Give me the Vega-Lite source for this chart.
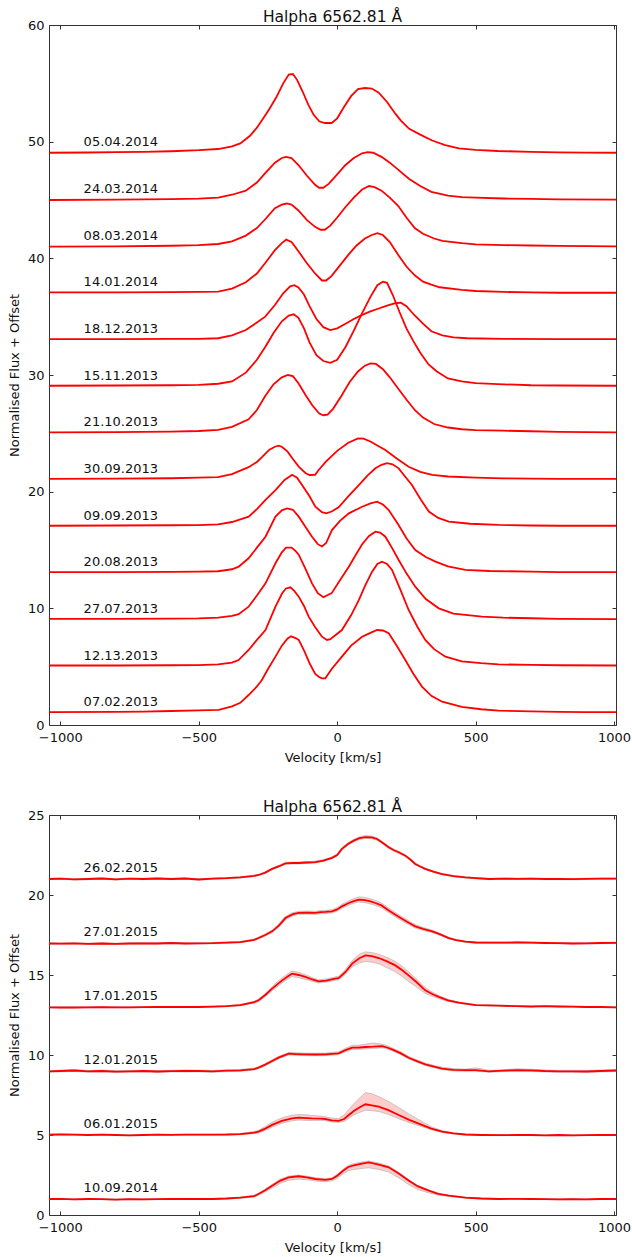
{
"$schema": "https://vega.github.io/schema/vega-lite/v6.json",
"padding": {"left": 7, "top": 9, "right": 5, "bottom": 2},
"spacing": 34,
"config": {
  "font": "DejaVu Sans",
  "view": {"stroke": "#333", "strokeWidth": 1},
  "axis": {"domain": false, "grid": false, "labelFont": "DejaVu Sans", "labelFontSize": 13, "labelColor": "#111", "titleFont": "DejaVu Sans", "titleFontSize": 13, "titleFontWeight": "normal", "titleColor": "#111", "tickColor": "#333", "tickSize": -4, "labelPadding": 10, "titlePadding": 6},
  "axisX": {"titlePadding": 7},
  "axisY": {"labelPadding": 9},
  "title": {"font": "DejaVu Sans", "fontSize": 15.5, "fontWeight": "normal", "color": "#111", "offset": -6, "anchor": "middle"}
},
"datasets": {
"lt": [
{"d":"05.04.2014","o":49},{"d":"24.03.2014","o":45},{"d":"08.03.2014","o":41},{"d":"14.01.2014","o":37},{"d":"18.12.2013","o":33},{"d":"15.11.2013","o":29},{"d":"21.10.2013","o":25},{"d":"30.09.2013","o":21},{"d":"09.09.2013","o":17},{"d":"20.08.2013","o":13},{"d":"27.07.2013","o":9},{"d":"12.13.2013","o":5},{"d":"07.02.2013","o":1}
],
"lb": [
{"d":"26.02.2015","o":21},{"d":"27.01.2015","o":17},{"d":"17.01.2015","o":13},{"d":"12.01.2015","o":9},{"d":"06.01.2015","o":5},{"d":"10.09.2014","o":1}
],
"top": [
{"d":"05.04.2014","v":-1040,"f":49.05},{"d":"05.04.2014","v":-900,"f":49.07},{"d":"05.04.2014","v":-800,"f":49.1},{"d":"05.04.2014","v":-700,"f":49.13},{"d":"05.04.2014","v":-600,"f":49.18},{"d":"05.04.2014","v":-500,"f":49.27},{"d":"05.04.2014","v":-430,"f":49.37},{"d":"05.04.2014","v":-380,"f":49.6},{"d":"05.04.2014","v":-350,"f":49.85},{"d":"05.04.2014","v":-315,"f":50.5},{"d":"05.04.2014","v":-290,"f":51.2},{"d":"05.04.2014","v":-270,"f":51.9},{"d":"05.04.2014","v":-245,"f":52.8},{"d":"05.04.2014","v":-220,"f":53.8},{"d":"05.04.2014","v":-195,"f":55.0},{"d":"05.04.2014","v":-175,"f":55.75},{"d":"05.04.2014","v":-160,"f":55.8},{"d":"05.04.2014","v":-145,"f":55.3},{"d":"05.04.2014","v":-125,"f":54.3},{"d":"05.04.2014","v":-105,"f":53.2},{"d":"05.04.2014","v":-85,"f":52.3},{"d":"05.04.2014","v":-65,"f":51.75},{"d":"05.04.2014","v":-45,"f":51.6},{"d":"05.04.2014","v":-20,"f":51.6},{"d":"05.04.2014","v":0,"f":52.0},{"d":"05.04.2014","v":25,"f":53.0},{"d":"05.04.2014","v":50,"f":53.9},{"d":"05.04.2014","v":75,"f":54.5},{"d":"05.04.2014","v":100,"f":54.6},{"d":"05.04.2014","v":125,"f":54.55},{"d":"05.04.2014","v":150,"f":54.2},{"d":"05.04.2014","v":180,"f":53.4},{"d":"05.04.2014","v":210,"f":52.4},{"d":"05.04.2014","v":230,"f":51.8},{"d":"05.04.2014","v":260,"f":51.1},{"d":"05.04.2014","v":300,"f":50.6},{"d":"05.04.2014","v":343,"f":50.1},{"d":"05.04.2014","v":390,"f":49.7},{"d":"05.04.2014","v":440,"f":49.43},{"d":"05.04.2014","v":500,"f":49.3},{"d":"05.04.2014","v":580,"f":49.2},{"d":"05.04.2014","v":700,"f":49.13},{"d":"05.04.2014","v":800,"f":49.08},{"d":"05.04.2014","v":900,"f":49.06},{"d":"05.04.2014","v":1007,"f":49.05},
{"d":"24.03.2014","v":-1040,"f":45.0},{"d":"24.03.2014","v":-800,"f":45.03},{"d":"24.03.2014","v":-600,"f":45.08},{"d":"24.03.2014","v":-500,"f":45.12},{"d":"24.03.2014","v":-430,"f":45.2},{"d":"24.03.2014","v":-380,"f":45.45},{"d":"24.03.2014","v":-330,"f":45.8},{"d":"24.03.2014","v":-290,"f":46.5},{"d":"24.03.2014","v":-260,"f":47.3},{"d":"24.03.2014","v":-225,"f":48.2},{"d":"24.03.2014","v":-200,"f":48.6},{"d":"24.03.2014","v":-185,"f":48.7},{"d":"24.03.2014","v":-165,"f":48.6},{"d":"24.03.2014","v":-140,"f":48.0},{"d":"24.03.2014","v":-110,"f":47.1},{"d":"24.03.2014","v":-80,"f":46.3},{"d":"24.03.2014","v":-65,"f":46.05},{"d":"24.03.2014","v":-50,"f":46.05},{"d":"24.03.2014","v":-30,"f":46.4},{"d":"24.03.2014","v":0,"f":47.2},{"d":"24.03.2014","v":30,"f":48.0},{"d":"24.03.2014","v":60,"f":48.6},{"d":"24.03.2014","v":90,"f":49.0},{"d":"24.03.2014","v":110,"f":49.1},{"d":"24.03.2014","v":130,"f":49.05},{"d":"24.03.2014","v":160,"f":48.7},{"d":"24.03.2014","v":190,"f":48.2},{"d":"24.03.2014","v":220,"f":47.6},{"d":"24.03.2014","v":260,"f":46.8},{"d":"24.03.2014","v":300,"f":46.2},{"d":"24.03.2014","v":340,"f":45.7},{"d":"24.03.2014","v":400,"f":45.37},{"d":"24.03.2014","v":450,"f":45.25},{"d":"24.03.2014","v":500,"f":45.2},{"d":"24.03.2014","v":600,"f":45.13},{"d":"24.03.2014","v":700,"f":45.1},{"d":"24.03.2014","v":800,"f":45.06},{"d":"24.03.2014","v":1007,"f":45.03},
{"d":"08.03.2014","v":-1040,"f":41.0},{"d":"08.03.2014","v":-800,"f":41.03},{"d":"08.03.2014","v":-600,"f":41.08},{"d":"08.03.2014","v":-500,"f":41.14},{"d":"08.03.2014","v":-430,"f":41.23},{"d":"08.03.2014","v":-380,"f":41.45},{"d":"08.03.2014","v":-330,"f":41.95},{"d":"08.03.2014","v":-290,"f":42.6},{"d":"08.03.2014","v":-260,"f":43.35},{"d":"08.03.2014","v":-225,"f":44.3},{"d":"08.03.2014","v":-200,"f":44.6},{"d":"08.03.2014","v":-182,"f":44.7},{"d":"08.03.2014","v":-165,"f":44.6},{"d":"08.03.2014","v":-140,"f":44.1},{"d":"08.03.2014","v":-110,"f":43.3},{"d":"08.03.2014","v":-80,"f":42.7},{"d":"08.03.2014","v":-60,"f":42.45},{"d":"08.03.2014","v":-45,"f":42.45},{"d":"08.03.2014","v":-25,"f":42.8},{"d":"08.03.2014","v":0,"f":43.5},{"d":"08.03.2014","v":30,"f":44.4},{"d":"08.03.2014","v":60,"f":45.2},{"d":"08.03.2014","v":90,"f":45.9},{"d":"08.03.2014","v":115,"f":46.2},{"d":"08.03.2014","v":135,"f":46.1},{"d":"08.03.2014","v":160,"f":45.8},{"d":"08.03.2014","v":190,"f":45.2},{"d":"08.03.2014","v":220,"f":44.5},{"d":"08.03.2014","v":250,"f":43.5},{"d":"08.03.2014","v":280,"f":42.6},{"d":"08.03.2014","v":310,"f":42.1},{"d":"08.03.2014","v":350,"f":41.7},{"d":"08.03.2014","v":380,"f":41.5},{"d":"08.03.2014","v":450,"f":41.3},{"d":"08.03.2014","v":500,"f":41.2},{"d":"08.03.2014","v":600,"f":41.13},{"d":"08.03.2014","v":700,"f":41.1},{"d":"08.03.2014","v":800,"f":41.06},{"d":"08.03.2014","v":1007,"f":41.03},
{"d":"14.01.2014","v":-1040,"f":37.08},{"d":"14.01.2014","v":-800,"f":37.09},{"d":"14.01.2014","v":-600,"f":37.1},{"d":"14.01.2014","v":-500,"f":37.12},{"d":"14.01.2014","v":-430,"f":37.15},{"d":"14.01.2014","v":-380,"f":37.4},{"d":"14.01.2014","v":-330,"f":37.95},{"d":"14.01.2014","v":-290,"f":38.7},{"d":"14.01.2014","v":-260,"f":39.6},{"d":"14.01.2014","v":-225,"f":40.7},{"d":"14.01.2014","v":-200,"f":41.3},{"d":"14.01.2014","v":-184,"f":41.6},{"d":"14.01.2014","v":-165,"f":41.4},{"d":"14.01.2014","v":-140,"f":40.6},{"d":"14.01.2014","v":-110,"f":39.6},{"d":"14.01.2014","v":-80,"f":38.7},{"d":"14.01.2014","v":-55,"f":38.1},{"d":"14.01.2014","v":-40,"f":38.1},{"d":"14.01.2014","v":-20,"f":38.5},{"d":"14.01.2014","v":10,"f":39.4},{"d":"14.01.2014","v":40,"f":40.3},{"d":"14.01.2014","v":70,"f":41.1},{"d":"14.01.2014","v":100,"f":41.7},{"d":"14.01.2014","v":125,"f":42.0},{"d":"14.01.2014","v":145,"f":42.15},{"d":"14.01.2014","v":165,"f":42.0},{"d":"14.01.2014","v":190,"f":41.4},{"d":"14.01.2014","v":220,"f":40.3},{"d":"14.01.2014","v":250,"f":39.3},{"d":"14.01.2014","v":280,"f":38.55},{"d":"14.01.2014","v":310,"f":38.0},{"d":"14.01.2014","v":340,"f":37.75},{"d":"14.01.2014","v":370,"f":37.52},{"d":"14.01.2014","v":450,"f":37.3},{"d":"14.01.2014","v":500,"f":37.2},{"d":"14.01.2014","v":600,"f":37.12},{"d":"14.01.2014","v":700,"f":37.08},{"d":"14.01.2014","v":800,"f":37.05},{"d":"14.01.2014","v":1007,"f":37.05},
{"d":"18.12.2013","v":-1040,"f":33.08},{"d":"18.12.2013","v":-800,"f":33.08},{"d":"18.12.2013","v":-600,"f":33.09},{"d":"18.12.2013","v":-500,"f":33.1},{"d":"18.12.2013","v":-430,"f":33.15},{"d":"18.12.2013","v":-380,"f":33.4},{"d":"18.12.2013","v":-330,"f":33.86},{"d":"18.12.2013","v":-290,"f":34.5},{"d":"18.12.2013","v":-260,"f":35.0},{"d":"18.12.2013","v":-225,"f":36.0},{"d":"18.12.2013","v":-195,"f":37.0},{"d":"18.12.2013","v":-170,"f":37.6},{"d":"18.12.2013","v":-155,"f":37.7},{"d":"18.12.2013","v":-140,"f":37.5},{"d":"18.12.2013","v":-120,"f":36.9},{"d":"18.12.2013","v":-100,"f":35.9},{"d":"18.12.2013","v":-75,"f":34.8},{"d":"18.12.2013","v":-50,"f":34.1},{"d":"18.12.2013","v":-25,"f":33.85},{"d":"18.12.2013","v":0,"f":34.0},{"d":"18.12.2013","v":30,"f":34.4},{"d":"18.12.2013","v":60,"f":34.8},{"d":"18.12.2013","v":90,"f":35.15},{"d":"18.12.2013","v":120,"f":35.45},{"d":"18.12.2013","v":150,"f":35.7},{"d":"18.12.2013","v":180,"f":35.95},{"d":"18.12.2013","v":210,"f":36.15},{"d":"18.12.2013","v":230,"f":36.2},{"d":"18.12.2013","v":250,"f":35.9},{"d":"18.12.2013","v":280,"f":35.1},{"d":"18.12.2013","v":310,"f":34.4},{"d":"18.12.2013","v":340,"f":33.75},{"d":"18.12.2013","v":380,"f":33.4},{"d":"18.12.2013","v":420,"f":33.22},{"d":"18.12.2013","v":470,"f":33.15},{"d":"18.12.2013","v":600,"f":33.1},{"d":"18.12.2013","v":800,"f":33.07},{"d":"18.12.2013","v":1007,"f":33.08},
{"d":"15.11.2013","v":-1040,"f":29.08},{"d":"15.11.2013","v":-800,"f":29.1},{"d":"15.11.2013","v":-600,"f":29.12},{"d":"15.11.2013","v":-500,"f":29.15},{"d":"15.11.2013","v":-430,"f":29.25},{"d":"15.11.2013","v":-380,"f":29.45},{"d":"15.11.2013","v":-330,"f":30.2},{"d":"15.11.2013","v":-290,"f":31.3},{"d":"15.11.2013","v":-260,"f":32.4},{"d":"15.11.2013","v":-230,"f":33.6},{"d":"15.11.2013","v":-200,"f":34.6},{"d":"15.11.2013","v":-175,"f":35.1},{"d":"15.11.2013","v":-157,"f":35.2},{"d":"15.11.2013","v":-140,"f":34.9},{"d":"15.11.2013","v":-120,"f":34.0},{"d":"15.11.2013","v":-100,"f":32.8},{"d":"15.11.2013","v":-75,"f":31.7},{"d":"15.11.2013","v":-50,"f":31.2},{"d":"15.11.2013","v":-25,"f":31.05},{"d":"15.11.2013","v":0,"f":31.3},{"d":"15.11.2013","v":30,"f":32.4},{"d":"15.11.2013","v":60,"f":33.8},{"d":"15.11.2013","v":90,"f":35.3},{"d":"15.11.2013","v":120,"f":36.7},{"d":"15.11.2013","v":145,"f":37.7},{"d":"15.11.2013","v":165,"f":38.0},{"d":"15.11.2013","v":180,"f":37.9},{"d":"15.11.2013","v":200,"f":36.9},{"d":"15.11.2013","v":225,"f":35.4},{"d":"15.11.2013","v":250,"f":34.0},{"d":"15.11.2013","v":275,"f":32.9},{"d":"15.11.2013","v":300,"f":31.9},{"d":"15.11.2013","v":330,"f":30.9},{"d":"15.11.2013","v":360,"f":30.3},{"d":"15.11.2013","v":400,"f":29.7},{"d":"15.11.2013","v":450,"f":29.45},{"d":"15.11.2013","v":500,"f":29.3},{"d":"15.11.2013","v":580,"f":29.22},{"d":"15.11.2013","v":700,"f":29.12},{"d":"15.11.2013","v":800,"f":29.1},{"d":"15.11.2013","v":1007,"f":29.08},
{"d":"21.10.2013","v":-1040,"f":25.09},{"d":"21.10.2013","v":-800,"f":25.1},{"d":"21.10.2013","v":-600,"f":25.15},{"d":"21.10.2013","v":-500,"f":25.2},{"d":"21.10.2013","v":-430,"f":25.3},{"d":"21.10.2013","v":-380,"f":25.55},{"d":"21.10.2013","v":-320,"f":26.2},{"d":"21.10.2013","v":-290,"f":27.0},{"d":"21.10.2013","v":-260,"f":28.2},{"d":"21.10.2013","v":-230,"f":29.2},{"d":"21.10.2013","v":-200,"f":29.8},{"d":"21.10.2013","v":-178,"f":30.0},{"d":"21.10.2013","v":-160,"f":29.9},{"d":"21.10.2013","v":-140,"f":29.3},{"d":"21.10.2013","v":-115,"f":28.3},{"d":"21.10.2013","v":-90,"f":27.4},{"d":"21.10.2013","v":-65,"f":26.7},{"d":"21.10.2013","v":-50,"f":26.55},{"d":"21.10.2013","v":-35,"f":26.6},{"d":"21.10.2013","v":-15,"f":27.1},{"d":"21.10.2013","v":15,"f":28.2},{"d":"21.10.2013","v":45,"f":29.4},{"d":"21.10.2013","v":75,"f":30.3},{"d":"21.10.2013","v":100,"f":30.8},{"d":"21.10.2013","v":120,"f":31.0},{"d":"21.10.2013","v":140,"f":30.95},{"d":"21.10.2013","v":165,"f":30.5},{"d":"21.10.2013","v":190,"f":29.8},{"d":"21.10.2013","v":220,"f":28.85},{"d":"21.10.2013","v":250,"f":27.9},{"d":"21.10.2013","v":280,"f":27.0},{"d":"21.10.2013","v":310,"f":26.35},{"d":"21.10.2013","v":350,"f":25.8},{"d":"21.10.2013","v":400,"f":25.5},{"d":"21.10.2013","v":450,"f":25.35},{"d":"21.10.2013","v":500,"f":25.27},{"d":"21.10.2013","v":600,"f":25.23},{"d":"21.10.2013","v":700,"f":25.18},{"d":"21.10.2013","v":800,"f":25.12},{"d":"21.10.2013","v":1007,"f":25.09},
{"d":"30.09.2013","v":-1040,"f":21.1},{"d":"30.09.2013","v":-800,"f":21.12},{"d":"30.09.2013","v":-600,"f":21.15},{"d":"30.09.2013","v":-500,"f":21.2},{"d":"30.09.2013","v":-430,"f":21.25},{"d":"30.09.2013","v":-380,"f":21.5},{"d":"30.09.2013","v":-320,"f":22.1},{"d":"30.09.2013","v":-290,"f":22.55},{"d":"30.09.2013","v":-270,"f":23.0},{"d":"30.09.2013","v":-245,"f":23.6},{"d":"30.09.2013","v":-225,"f":23.85},{"d":"30.09.2013","v":-212,"f":23.94},{"d":"30.09.2013","v":-200,"f":23.85},{"d":"30.09.2013","v":-180,"f":23.45},{"d":"30.09.2013","v":-160,"f":22.8},{"d":"30.09.2013","v":-139,"f":22.15},{"d":"30.09.2013","v":-115,"f":21.6},{"d":"30.09.2013","v":-100,"f":21.43},{"d":"30.09.2013","v":-80,"f":21.45},{"d":"30.09.2013","v":-67,"f":21.86},{"d":"30.09.2013","v":-40,"f":22.6},{"d":"30.09.2013","v":0,"f":23.5},{"d":"30.09.2013","v":40,"f":24.2},{"d":"30.09.2013","v":75,"f":24.57},{"d":"30.09.2013","v":95,"f":24.55},{"d":"30.09.2013","v":120,"f":24.3},{"d":"30.09.2013","v":145,"f":23.95},{"d":"30.09.2013","v":174,"f":23.57},{"d":"30.09.2013","v":215,"f":22.85},{"d":"30.09.2013","v":258,"f":22.14},{"d":"30.09.2013","v":300,"f":21.7},{"d":"30.09.2013","v":343,"f":21.43},{"d":"30.09.2013","v":400,"f":21.3},{"d":"30.09.2013","v":500,"f":21.2},{"d":"30.09.2013","v":600,"f":21.14},{"d":"30.09.2013","v":700,"f":21.12},{"d":"30.09.2013","v":800,"f":21.1},{"d":"30.09.2013","v":1007,"f":21.1},
{"d":"09.09.2013","v":-1040,"f":17.08},{"d":"09.09.2013","v":-800,"f":17.1},{"d":"09.09.2013","v":-600,"f":17.12},{"d":"09.09.2013","v":-500,"f":17.14},{"d":"09.09.2013","v":-430,"f":17.2},{"d":"09.09.2013","v":-380,"f":17.4},{"d":"09.09.2013","v":-320,"f":17.86},{"d":"09.09.2013","v":-290,"f":18.5},{"d":"09.09.2013","v":-259,"f":19.29},{"d":"09.09.2013","v":-223,"f":20.14},{"d":"09.09.2013","v":-190,"f":21.0},{"d":"09.09.2013","v":-163,"f":21.45},{"d":"09.09.2013","v":-145,"f":21.2},{"d":"09.09.2013","v":-127,"f":20.57},{"d":"09.09.2013","v":-100,"f":19.6},{"d":"09.09.2013","v":-79,"f":18.71},{"d":"09.09.2013","v":-55,"f":18.25},{"d":"09.09.2013","v":-40,"f":18.14},{"d":"09.09.2013","v":-20,"f":18.3},{"d":"09.09.2013","v":5,"f":18.66},{"d":"09.09.2013","v":40,"f":19.6},{"d":"09.09.2013","v":78,"f":20.57},{"d":"09.09.2013","v":110,"f":21.4},{"d":"09.09.2013","v":138,"f":22.0},{"d":"09.09.2013","v":160,"f":22.3},{"d":"09.09.2013","v":180,"f":22.45},{"d":"09.09.2013","v":200,"f":22.35},{"d":"09.09.2013","v":222,"f":22.0},{"d":"09.09.2013","v":245,"f":21.3},{"d":"09.09.2013","v":270,"f":20.57},{"d":"09.09.2013","v":300,"f":19.4},{"d":"09.09.2013","v":331,"f":18.29},{"d":"09.09.2013","v":365,"f":17.75},{"d":"09.09.2013","v":403,"f":17.43},{"d":"09.09.2013","v":480,"f":17.25},{"d":"09.09.2013","v":583,"f":17.15},{"d":"09.09.2013","v":700,"f":17.1},{"d":"09.09.2013","v":800,"f":17.08},{"d":"09.09.2013","v":1007,"f":17.08},
{"d":"20.08.2013","v":-1040,"f":13.1},{"d":"20.08.2013","v":-800,"f":13.1},{"d":"20.08.2013","v":-600,"f":13.12},{"d":"20.08.2013","v":-500,"f":13.14},{"d":"20.08.2013","v":-430,"f":13.18},{"d":"20.08.2013","v":-380,"f":13.35},{"d":"20.08.2013","v":-356,"f":13.57},{"d":"20.08.2013","v":-320,"f":14.29},{"d":"20.08.2013","v":-290,"f":15.2},{"d":"20.08.2013","v":-259,"f":16.14},{"d":"20.08.2013","v":-223,"f":17.86},{"d":"20.08.2013","v":-200,"f":18.4},{"d":"20.08.2013","v":-181,"f":18.57},{"d":"20.08.2013","v":-160,"f":18.45},{"d":"20.08.2013","v":-139,"f":17.86},{"d":"20.08.2013","v":-115,"f":17.0},{"d":"20.08.2013","v":-91,"f":16.14},{"d":"20.08.2013","v":-70,"f":15.5},{"d":"20.08.2013","v":-55,"f":15.3},{"d":"20.08.2013","v":-40,"f":15.6},{"d":"20.08.2013","v":-19,"f":16.71},{"d":"20.08.2013","v":10,"f":17.5},{"d":"20.08.2013","v":42,"f":18.14},{"d":"20.08.2013","v":90,"f":18.71},{"d":"20.08.2013","v":120,"f":19.0},{"d":"20.08.2013","v":144,"f":19.14},{"d":"20.08.2013","v":165,"f":18.9},{"d":"20.08.2013","v":186,"f":18.43},{"d":"20.08.2013","v":220,"f":17.2},{"d":"20.08.2013","v":250,"f":16.0},{"d":"20.08.2013","v":282,"f":15.0},{"d":"20.08.2013","v":320,"f":14.4},{"d":"20.08.2013","v":355,"f":14.0},{"d":"20.08.2013","v":400,"f":13.6},{"d":"20.08.2013","v":463,"f":13.29},{"d":"20.08.2013","v":550,"f":13.2},{"d":"20.08.2013","v":700,"f":13.15},{"d":"20.08.2013","v":800,"f":13.1},{"d":"20.08.2013","v":1007,"f":13.1},
{"d":"27.07.2013","v":-1040,"f":9.1},{"d":"27.07.2013","v":-800,"f":9.1},{"d":"27.07.2013","v":-600,"f":9.12},{"d":"27.07.2013","v":-500,"f":9.14},{"d":"27.07.2013","v":-430,"f":9.2},{"d":"27.07.2013","v":-380,"f":9.35},{"d":"27.07.2013","v":-356,"f":9.5},{"d":"27.07.2013","v":-320,"f":10.14},{"d":"27.07.2013","v":-290,"f":11.1},{"d":"27.07.2013","v":-259,"f":12.14},{"d":"27.07.2013","v":-223,"f":13.86},{"d":"27.07.2013","v":-200,"f":14.8},{"d":"27.07.2013","v":-185,"f":15.2},{"d":"27.07.2013","v":-165,"f":15.2},{"d":"27.07.2013","v":-150,"f":14.9},{"d":"27.07.2013","v":-139,"f":14.6},{"d":"27.07.2013","v":-115,"f":13.4},{"d":"27.07.2013","v":-91,"f":12.14},{"d":"27.07.2013","v":-70,"f":11.3},{"d":"27.07.2013","v":-50,"f":10.95},{"d":"27.07.2013","v":-20,"f":11.3},{"d":"27.07.2013","v":10,"f":12.4},{"d":"27.07.2013","v":42,"f":13.57},{"d":"27.07.2013","v":70,"f":14.7},{"d":"27.07.2013","v":90,"f":15.5},{"d":"27.07.2013","v":115,"f":16.2},{"d":"27.07.2013","v":138,"f":16.57},{"d":"27.07.2013","v":155,"f":16.5},{"d":"27.07.2013","v":174,"f":16.14},{"d":"27.07.2013","v":200,"f":15.1},{"d":"27.07.2013","v":222,"f":14.14},{"d":"27.07.2013","v":250,"f":13.0},{"d":"27.07.2013","v":282,"f":11.86},{"d":"27.07.2013","v":320,"f":10.8},{"d":"27.07.2013","v":367,"f":10.0},{"d":"27.07.2013","v":420,"f":9.55},{"d":"27.07.2013","v":523,"f":9.29},{"d":"27.07.2013","v":600,"f":9.2},{"d":"27.07.2013","v":700,"f":9.15},{"d":"27.07.2013","v":800,"f":9.1},{"d":"27.07.2013","v":1007,"f":9.08},
{"d":"12.13.2013","v":-1040,"f":5.1},{"d":"12.13.2013","v":-800,"f":5.1},{"d":"12.13.2013","v":-600,"f":5.12},{"d":"12.13.2013","v":-500,"f":5.14},{"d":"12.13.2013","v":-430,"f":5.2},{"d":"12.13.2013","v":-380,"f":5.35},{"d":"12.13.2013","v":-356,"f":5.57},{"d":"12.13.2013","v":-320,"f":6.43},{"d":"12.13.2013","v":-290,"f":7.3},{"d":"12.13.2013","v":-259,"f":8.14},{"d":"12.13.2013","v":-223,"f":10.14},{"d":"12.13.2013","v":-199,"f":11.29},{"d":"12.13.2013","v":-185,"f":11.7},{"d":"12.13.2013","v":-169,"f":11.8},{"d":"12.13.2013","v":-155,"f":11.5},{"d":"12.13.2013","v":-139,"f":11.0},{"d":"12.13.2013","v":-120,"f":10.2},{"d":"12.13.2013","v":-103,"f":9.29},{"d":"12.13.2013","v":-80,"f":8.4},{"d":"12.13.2013","v":-55,"f":7.57},{"d":"12.13.2013","v":-37,"f":7.29},{"d":"12.13.2013","v":-25,"f":7.35},{"d":"12.13.2013","v":17,"f":8.14},{"d":"12.13.2013","v":50,"f":9.4},{"d":"12.13.2013","v":78,"f":10.71},{"d":"12.13.2013","v":100,"f":11.9},{"d":"12.13.2013","v":126,"f":13.14},{"d":"12.13.2013","v":145,"f":13.8},{"d":"12.13.2013","v":162,"f":14.0},{"d":"12.13.2013","v":180,"f":13.8},{"d":"12.13.2013","v":198,"f":13.29},{"d":"12.13.2013","v":230,"f":11.5},{"d":"12.13.2013","v":258,"f":9.86},{"d":"12.13.2013","v":290,"f":8.4},{"d":"12.13.2013","v":318,"f":7.29},{"d":"12.13.2013","v":350,"f":6.5},{"d":"12.13.2013","v":391,"f":5.86},{"d":"12.13.2013","v":450,"f":5.45},{"d":"12.13.2013","v":520,"f":5.3},{"d":"12.13.2013","v":583,"f":5.2},{"d":"12.13.2013","v":700,"f":5.15},{"d":"12.13.2013","v":800,"f":5.12},{"d":"12.13.2013","v":1007,"f":5.1},
{"d":"07.02.2013","v":-1040,"f":1.1},{"d":"07.02.2013","v":-800,"f":1.12},{"d":"07.02.2013","v":-700,"f":1.15},{"d":"07.02.2013","v":-600,"f":1.2},{"d":"07.02.2013","v":-500,"f":1.25},{"d":"07.02.2013","v":-428,"f":1.29},{"d":"07.02.2013","v":-380,"f":1.6},{"d":"07.02.2013","v":-350,"f":1.9},{"d":"07.02.2013","v":-320,"f":2.57},{"d":"07.02.2013","v":-290,"f":3.3},{"d":"07.02.2013","v":-272,"f":3.86},{"d":"07.02.2013","v":-250,"f":4.8},{"d":"07.02.2013","v":-223,"f":5.86},{"d":"07.02.2013","v":-200,"f":6.8},{"d":"07.02.2013","v":-180,"f":7.4},{"d":"07.02.2013","v":-167,"f":7.6},{"d":"07.02.2013","v":-150,"f":7.45},{"d":"07.02.2013","v":-139,"f":7.29},{"d":"07.02.2013","v":-120,"f":6.4},{"d":"07.02.2013","v":-100,"f":5.3},{"d":"07.02.2013","v":-80,"f":4.4},{"d":"07.02.2013","v":-67,"f":4.14},{"d":"07.02.2013","v":-55,"f":4.0},{"d":"07.02.2013","v":-43,"f":4.0},{"d":"07.02.2013","v":-20,"f":4.8},{"d":"07.02.2013","v":17,"f":5.86},{"d":"07.02.2013","v":50,"f":6.8},{"d":"07.02.2013","v":90,"f":7.57},{"d":"07.02.2013","v":120,"f":7.9},{"d":"07.02.2013","v":144,"f":8.14},{"d":"07.02.2013","v":165,"f":8.1},{"d":"07.02.2013","v":186,"f":7.86},{"d":"07.02.2013","v":215,"f":6.8},{"d":"07.02.2013","v":246,"f":5.57},{"d":"07.02.2013","v":275,"f":4.4},{"d":"07.02.2013","v":306,"f":3.29},{"d":"07.02.2013","v":340,"f":2.5},{"d":"07.02.2013","v":379,"f":2.0},{"d":"07.02.2013","v":450,"f":1.55},{"d":"07.02.2013","v":520,"f":1.35},{"d":"07.02.2013","v":583,"f":1.23},{"d":"07.02.2013","v":700,"f":1.17},{"d":"07.02.2013","v":800,"f":1.12},{"d":"07.02.2013","v":900,"f":1.1},{"d":"07.02.2013","v":1007,"f":1.1}
],
"bot": [
{"d":"26.02.2015","v":-1040,"f":21.0,"lo":20.96,"hi":21.04},{"d":"26.02.2015","v":-1000,"f":21.02,"lo":20.98,"hi":21.06},{"d":"26.02.2015","v":-950,"f":20.98,"lo":20.94,"hi":21.02},{"d":"26.02.2015","v":-900,"f":21.0,"lo":20.96,"hi":21.04},{"d":"26.02.2015","v":-850,"f":21.03,"lo":20.99,"hi":21.07},{"d":"26.02.2015","v":-800,"f":20.98,"lo":20.94,"hi":21.02},{"d":"26.02.2015","v":-750,"f":21.02,"lo":20.98,"hi":21.06},{"d":"26.02.2015","v":-700,"f":21.0,"lo":20.96,"hi":21.04},{"d":"26.02.2015","v":-650,"f":21.03,"lo":20.99,"hi":21.07},{"d":"26.02.2015","v":-600,"f":21.0,"lo":20.96,"hi":21.04},{"d":"26.02.2015","v":-550,"f":21.03,"lo":20.99,"hi":21.07},{"d":"26.02.2015","v":-500,"f":20.97,"lo":20.93,"hi":21.01},{"d":"26.02.2015","v":-450,"f":21.02,"lo":20.98,"hi":21.06},{"d":"26.02.2015","v":-400,"f":21.05,"lo":21.01,"hi":21.09},{"d":"26.02.2015","v":-350,"f":21.1,"lo":21.06,"hi":21.14},{"d":"26.02.2015","v":-300,"f":21.2,"lo":21.16,"hi":21.24},{"d":"26.02.2015","v":-284,"f":21.25,"lo":21.21,"hi":21.29},{"d":"26.02.2015","v":-260,"f":21.4,"lo":21.35,"hi":21.45},{"d":"26.02.2015","v":-235,"f":21.63,"lo":21.58,"hi":21.68},{"d":"26.02.2015","v":-210,"f":21.8,"lo":21.74,"hi":21.86},{"d":"26.02.2015","v":-187,"f":21.98,"lo":21.92,"hi":22.04},{"d":"26.02.2015","v":-160,"f":22.0,"lo":21.94,"hi":22.06},{"d":"26.02.2015","v":-139,"f":22.0,"lo":21.94,"hi":22.06},{"d":"26.02.2015","v":-110,"f":22.03,"lo":21.97,"hi":22.09},{"d":"26.02.2015","v":-79,"f":22.06,"lo":22.0,"hi":22.12},{"d":"26.02.2015","v":-50,"f":22.15,"lo":22.09,"hi":22.21},{"d":"26.02.2015","v":-19,"f":22.32,"lo":22.26,"hi":22.38},{"d":"26.02.2015","v":0,"f":22.5,"lo":22.44,"hi":22.56},{"d":"26.02.2015","v":17,"f":22.88,"lo":22.8,"hi":22.96},{"d":"26.02.2015","v":40,"f":23.2,"lo":23.12,"hi":23.28},{"d":"26.02.2015","v":60,"f":23.4,"lo":23.32,"hi":23.48},{"d":"26.02.2015","v":80,"f":23.55,"lo":23.47,"hi":23.63},{"d":"26.02.2015","v":102,"f":23.62,"lo":23.54,"hi":23.72},{"d":"26.02.2015","v":125,"f":23.6,"lo":23.52,"hi":23.68},{"d":"26.02.2015","v":144,"f":23.5,"lo":23.42,"hi":23.58},{"d":"26.02.2015","v":165,"f":23.25,"lo":23.18,"hi":23.32},{"d":"26.02.2015","v":186,"f":22.98,"lo":22.91,"hi":23.05},{"d":"26.02.2015","v":205,"f":22.8,"lo":22.73,"hi":22.87},{"d":"26.02.2015","v":222,"f":22.67,"lo":22.6,"hi":22.74},{"d":"26.02.2015","v":246,"f":22.46,"lo":22.4,"hi":22.52},{"d":"26.02.2015","v":265,"f":22.2,"lo":22.14,"hi":22.26},{"d":"26.02.2015","v":282,"f":21.94,"lo":21.88,"hi":22.0},{"d":"26.02.2015","v":300,"f":21.78,"lo":21.73,"hi":21.83},{"d":"26.02.2015","v":318,"f":21.63,"lo":21.58,"hi":21.68},{"d":"26.02.2015","v":350,"f":21.45,"lo":21.41,"hi":21.49},{"d":"26.02.2015","v":379,"f":21.31,"lo":21.27,"hi":21.35},{"d":"26.02.2015","v":420,"f":21.18,"lo":21.14,"hi":21.22},{"d":"26.02.2015","v":463,"f":21.1,"lo":21.06,"hi":21.14},{"d":"26.02.2015","v":500,"f":21.05,"lo":21.01,"hi":21.09},{"d":"26.02.2015","v":550,"f":21.0,"lo":20.96,"hi":21.04},{"d":"26.02.2015","v":600,"f":21.02,"lo":20.98,"hi":21.06},{"d":"26.02.2015","v":650,"f":21.01,"lo":20.97,"hi":21.05},{"d":"26.02.2015","v":700,"f":21.02,"lo":20.98,"hi":21.06},{"d":"26.02.2015","v":750,"f":21.0,"lo":20.96,"hi":21.04},{"d":"26.02.2015","v":800,"f":21.0,"lo":20.96,"hi":21.04},{"d":"26.02.2015","v":850,"f":20.99,"lo":20.95,"hi":21.03},{"d":"26.02.2015","v":900,"f":21.01,"lo":20.97,"hi":21.05},{"d":"26.02.2015","v":950,"f":21.02,"lo":20.98,"hi":21.06},{"d":"26.02.2015","v":1007,"f":21.02,"lo":20.98,"hi":21.06},
{"d":"27.01.2015","v":-1040,"f":16.97,"lo":16.93,"hi":17.01},{"d":"27.01.2015","v":-1000,"f":16.96,"lo":16.92,"hi":17.0},{"d":"27.01.2015","v":-950,"f":16.98,"lo":16.94,"hi":17.02},{"d":"27.01.2015","v":-900,"f":16.95,"lo":16.91,"hi":16.99},{"d":"27.01.2015","v":-850,"f":16.97,"lo":16.93,"hi":17.01},{"d":"27.01.2015","v":-800,"f":16.94,"lo":16.9,"hi":16.98},{"d":"27.01.2015","v":-750,"f":16.97,"lo":16.93,"hi":17.01},{"d":"27.01.2015","v":-700,"f":16.98,"lo":16.94,"hi":17.02},{"d":"27.01.2015","v":-650,"f":16.97,"lo":16.93,"hi":17.01},{"d":"27.01.2015","v":-600,"f":17.0,"lo":16.96,"hi":17.04},{"d":"27.01.2015","v":-550,"f":16.97,"lo":16.93,"hi":17.01},{"d":"27.01.2015","v":-500,"f":16.98,"lo":16.94,"hi":17.02},{"d":"27.01.2015","v":-450,"f":16.99,"lo":16.95,"hi":17.03},{"d":"27.01.2015","v":-400,"f":17.02,"lo":16.98,"hi":17.06},{"d":"27.01.2015","v":-350,"f":17.06,"lo":17.02,"hi":17.1},{"d":"27.01.2015","v":-300,"f":17.2,"lo":17.15,"hi":17.25},{"d":"27.01.2015","v":-284,"f":17.31,"lo":17.25,"hi":17.37},{"d":"27.01.2015","v":-260,"f":17.5,"lo":17.43,"hi":17.57},{"d":"27.01.2015","v":-235,"f":17.73,"lo":17.65,"hi":17.81},{"d":"27.01.2015","v":-210,"f":18.1,"lo":18.0,"hi":18.2},{"d":"27.01.2015","v":-187,"f":18.56,"lo":18.45,"hi":18.67},{"d":"27.01.2015","v":-160,"f":18.8,"lo":18.7,"hi":18.9},{"d":"27.01.2015","v":-139,"f":18.88,"lo":18.78,"hi":18.98},{"d":"27.01.2015","v":-110,"f":18.9,"lo":18.8,"hi":19.0},{"d":"27.01.2015","v":-79,"f":18.88,"lo":18.78,"hi":18.98},{"d":"27.01.2015","v":-60,"f":18.93,"lo":18.83,"hi":19.03},{"d":"27.01.2015","v":-43,"f":18.94,"lo":18.84,"hi":19.04},{"d":"27.01.2015","v":-19,"f":18.98,"lo":18.88,"hi":19.08},{"d":"27.01.2015","v":0,"f":19.1,"lo":19.0,"hi":19.22},{"d":"27.01.2015","v":17,"f":19.29,"lo":19.17,"hi":19.42},{"d":"27.01.2015","v":42,"f":19.5,"lo":19.37,"hi":19.64},{"d":"27.01.2015","v":60,"f":19.62,"lo":19.48,"hi":19.78},{"d":"27.01.2015","v":78,"f":19.71,"lo":19.56,"hi":19.88},{"d":"27.01.2015","v":100,"f":19.68,"lo":19.52,"hi":19.85},{"d":"27.01.2015","v":120,"f":19.6,"lo":19.44,"hi":19.76},{"d":"27.01.2015","v":138,"f":19.5,"lo":19.35,"hi":19.66},{"d":"27.01.2015","v":160,"f":19.35,"lo":19.2,"hi":19.5},{"d":"27.01.2015","v":185,"f":19.05,"lo":18.9,"hi":19.2},{"d":"27.01.2015","v":210,"f":18.77,"lo":18.63,"hi":18.91},{"d":"27.01.2015","v":240,"f":18.45,"lo":18.32,"hi":18.58},{"d":"27.01.2015","v":260,"f":18.25,"lo":18.13,"hi":18.37},{"d":"27.01.2015","v":282,"f":18.04,"lo":17.93,"hi":18.15},{"d":"27.01.2015","v":310,"f":17.88,"lo":17.79,"hi":17.97},{"d":"27.01.2015","v":343,"f":17.73,"lo":17.65,"hi":17.81},{"d":"27.01.2015","v":370,"f":17.55,"lo":17.48,"hi":17.62},{"d":"27.01.2015","v":403,"f":17.31,"lo":17.26,"hi":17.36},{"d":"27.01.2015","v":430,"f":17.18,"lo":17.14,"hi":17.22},{"d":"27.01.2015","v":463,"f":17.08,"lo":17.04,"hi":17.12},{"d":"27.01.2015","v":500,"f":17.03,"lo":16.99,"hi":17.07},{"d":"27.01.2015","v":550,"f":17.02,"lo":16.98,"hi":17.06},{"d":"27.01.2015","v":600,"f":17.02,"lo":16.98,"hi":17.06},{"d":"27.01.2015","v":650,"f":17.04,"lo":17.0,"hi":17.08},{"d":"27.01.2015","v":700,"f":17.02,"lo":16.98,"hi":17.06},{"d":"27.01.2015","v":750,"f":17.0,"lo":16.96,"hi":17.04},{"d":"27.01.2015","v":800,"f":16.99,"lo":16.95,"hi":17.03},{"d":"27.01.2015","v":850,"f":16.97,"lo":16.93,"hi":17.01},{"d":"27.01.2015","v":900,"f":16.98,"lo":16.94,"hi":17.02},{"d":"27.01.2015","v":950,"f":17.0,"lo":16.96,"hi":17.04},{"d":"27.01.2015","v":1007,"f":17.01,"lo":16.97,"hi":17.05},
{"d":"17.01.2015","v":-1040,"f":12.98,"lo":12.95,"hi":13.01},{"d":"17.01.2015","v":-1000,"f":12.97,"lo":12.94,"hi":13.0},{"d":"17.01.2015","v":-950,"f":12.97,"lo":12.94,"hi":13.0},{"d":"17.01.2015","v":-900,"f":12.98,"lo":12.95,"hi":13.01},{"d":"17.01.2015","v":-850,"f":12.99,"lo":12.96,"hi":13.02},{"d":"17.01.2015","v":-800,"f":12.98,"lo":12.95,"hi":13.01},{"d":"17.01.2015","v":-750,"f":12.98,"lo":12.95,"hi":13.01},{"d":"17.01.2015","v":-700,"f":12.99,"lo":12.96,"hi":13.02},{"d":"17.01.2015","v":-650,"f":13.0,"lo":12.97,"hi":13.03},{"d":"17.01.2015","v":-600,"f":13.0,"lo":12.97,"hi":13.03},{"d":"17.01.2015","v":-550,"f":13.0,"lo":12.97,"hi":13.03},{"d":"17.01.2015","v":-500,"f":13.0,"lo":12.97,"hi":13.03},{"d":"17.01.2015","v":-450,"f":13.02,"lo":12.99,"hi":13.05},{"d":"17.01.2015","v":-400,"f":13.05,"lo":13.02,"hi":13.08},{"d":"17.01.2015","v":-350,"f":13.12,"lo":13.08,"hi":13.16},{"d":"17.01.2015","v":-300,"f":13.3,"lo":13.24,"hi":13.36},{"d":"17.01.2015","v":-284,"f":13.42,"lo":13.35,"hi":13.5},{"d":"17.01.2015","v":-260,"f":13.75,"lo":13.65,"hi":13.85},{"d":"17.01.2015","v":-235,"f":14.15,"lo":14.02,"hi":14.28},{"d":"17.01.2015","v":-200,"f":14.65,"lo":14.5,"hi":14.82},{"d":"17.01.2015","v":-175,"f":14.95,"lo":14.78,"hi":15.12},{"d":"17.01.2015","v":-163,"f":15.08,"lo":14.9,"hi":15.25},{"d":"17.01.2015","v":-139,"f":15.0,"lo":14.83,"hi":15.17},{"d":"17.01.2015","v":-115,"f":14.88,"lo":14.72,"hi":15.02},{"d":"17.01.2015","v":-90,"f":14.72,"lo":14.6,"hi":14.84},{"d":"17.01.2015","v":-67,"f":14.6,"lo":14.5,"hi":14.7},{"d":"17.01.2015","v":-40,"f":14.65,"lo":14.55,"hi":14.75},{"d":"17.01.2015","v":-7,"f":14.77,"lo":14.67,"hi":14.88},{"d":"17.01.2015","v":5,"f":14.8,"lo":14.7,"hi":14.92},{"d":"17.01.2015","v":30,"f":15.19,"lo":15.05,"hi":15.35},{"d":"17.01.2015","v":54,"f":15.71,"lo":15.5,"hi":15.9},{"d":"17.01.2015","v":80,"f":16.05,"lo":15.75,"hi":16.3},{"d":"17.01.2015","v":102,"f":16.23,"lo":15.85,"hi":16.45},{"d":"17.01.2015","v":125,"f":16.18,"lo":15.8,"hi":16.4},{"d":"17.01.2015","v":150,"f":16.06,"lo":15.7,"hi":16.3},{"d":"17.01.2015","v":180,"f":15.85,"lo":15.45,"hi":16.1},{"d":"17.01.2015","v":210,"f":15.6,"lo":15.2,"hi":15.85},{"d":"17.01.2015","v":235,"f":15.3,"lo":14.9,"hi":15.55},{"d":"17.01.2015","v":258,"f":14.98,"lo":14.6,"hi":15.2},{"d":"17.01.2015","v":290,"f":14.5,"lo":14.2,"hi":14.7},{"d":"17.01.2015","v":318,"f":14.04,"lo":13.85,"hi":14.2},{"d":"17.01.2015","v":345,"f":13.8,"lo":13.65,"hi":13.92},{"d":"17.01.2015","v":367,"f":13.63,"lo":13.52,"hi":13.72},{"d":"17.01.2015","v":400,"f":13.42,"lo":13.35,"hi":13.48},{"d":"17.01.2015","v":439,"f":13.27,"lo":13.22,"hi":13.31},{"d":"17.01.2015","v":500,"f":13.12,"lo":13.09,"hi":13.15},{"d":"17.01.2015","v":583,"f":13.08,"lo":13.05,"hi":13.11},{"d":"17.01.2015","v":650,"f":13.05,"lo":13.02,"hi":13.08},{"d":"17.01.2015","v":700,"f":13.03,"lo":13.0,"hi":13.06},{"d":"17.01.2015","v":750,"f":13.05,"lo":13.02,"hi":13.08},{"d":"17.01.2015","v":800,"f":13.03,"lo":13.0,"hi":13.06},{"d":"17.01.2015","v":850,"f":13.02,"lo":12.99,"hi":13.05},{"d":"17.01.2015","v":900,"f":13.0,"lo":12.97,"hi":13.03},{"d":"17.01.2015","v":950,"f":13.0,"lo":12.97,"hi":13.03},{"d":"17.01.2015","v":1007,"f":12.98,"lo":12.95,"hi":13.01},
{"d":"12.01.2015","v":-1040,"f":8.98,"lo":8.93,"hi":9.03},{"d":"12.01.2015","v":-1000,"f":9.0,"lo":8.95,"hi":9.05},{"d":"12.01.2015","v":-950,"f":9.03,"lo":8.97,"hi":9.1},{"d":"12.01.2015","v":-900,"f":8.98,"lo":8.93,"hi":9.03},{"d":"12.01.2015","v":-850,"f":9.0,"lo":8.95,"hi":9.06},{"d":"12.01.2015","v":-800,"f":8.96,"lo":8.9,"hi":9.02},{"d":"12.01.2015","v":-750,"f":8.98,"lo":8.93,"hi":9.03},{"d":"12.01.2015","v":-700,"f":9.0,"lo":8.95,"hi":9.05},{"d":"12.01.2015","v":-650,"f":8.97,"lo":8.9,"hi":9.03},{"d":"12.01.2015","v":-600,"f":8.99,"lo":8.94,"hi":9.04},{"d":"12.01.2015","v":-550,"f":9.0,"lo":8.93,"hi":9.07},{"d":"12.01.2015","v":-500,"f":9.0,"lo":8.95,"hi":9.05},{"d":"12.01.2015","v":-450,"f":8.98,"lo":8.92,"hi":9.04},{"d":"12.01.2015","v":-400,"f":9.02,"lo":8.96,"hi":9.07},{"d":"12.01.2015","v":-350,"f":9.04,"lo":8.98,"hi":9.1},{"d":"12.01.2015","v":-300,"f":9.12,"lo":9.06,"hi":9.18},{"d":"12.01.2015","v":-284,"f":9.21,"lo":9.15,"hi":9.27},{"d":"12.01.2015","v":-260,"f":9.4,"lo":9.33,"hi":9.47},{"d":"12.01.2015","v":-235,"f":9.63,"lo":9.55,"hi":9.71},{"d":"12.01.2015","v":-210,"f":9.85,"lo":9.77,"hi":9.93},{"d":"12.01.2015","v":-175,"f":10.08,"lo":10.0,"hi":10.16},{"d":"12.01.2015","v":-150,"f":10.06,"lo":9.98,"hi":10.14},{"d":"12.01.2015","v":-115,"f":10.04,"lo":9.96,"hi":10.12},{"d":"12.01.2015","v":-79,"f":10.03,"lo":9.95,"hi":10.11},{"d":"12.01.2015","v":-43,"f":10.04,"lo":9.96,"hi":10.12},{"d":"12.01.2015","v":5,"f":10.1,"lo":10.02,"hi":10.2},{"d":"12.01.2015","v":30,"f":10.3,"lo":10.2,"hi":10.42},{"d":"12.01.2015","v":54,"f":10.46,"lo":10.35,"hi":10.6},{"d":"12.01.2015","v":80,"f":10.47,"lo":10.36,"hi":10.62},{"d":"12.01.2015","v":102,"f":10.5,"lo":10.38,"hi":10.68},{"d":"12.01.2015","v":130,"f":10.52,"lo":10.4,"hi":10.75},{"d":"12.01.2015","v":162,"f":10.56,"lo":10.45,"hi":10.68},{"d":"12.01.2015","v":180,"f":10.47,"lo":10.37,"hi":10.58},{"d":"12.01.2015","v":198,"f":10.35,"lo":10.26,"hi":10.45},{"d":"12.01.2015","v":230,"f":10.1,"lo":10.02,"hi":10.2},{"d":"12.01.2015","v":258,"f":9.83,"lo":9.75,"hi":9.92},{"d":"12.01.2015","v":290,"f":9.6,"lo":9.53,"hi":9.68},{"d":"12.01.2015","v":318,"f":9.42,"lo":9.35,"hi":9.5},{"d":"12.01.2015","v":350,"f":9.27,"lo":9.2,"hi":9.35},{"d":"12.01.2015","v":379,"f":9.15,"lo":9.08,"hi":9.24},{"d":"12.01.2015","v":420,"f":9.07,"lo":9.0,"hi":9.15},{"d":"12.01.2015","v":463,"f":9.05,"lo":8.98,"hi":9.12},{"d":"12.01.2015","v":500,"f":9.06,"lo":8.99,"hi":9.2},{"d":"12.01.2015","v":548,"f":8.98,"lo":8.92,"hi":9.04},{"d":"12.01.2015","v":600,"f":9.02,"lo":8.96,"hi":9.08},{"d":"12.01.2015","v":650,"f":9.06,"lo":8.98,"hi":9.14},{"d":"12.01.2015","v":700,"f":9.04,"lo":8.97,"hi":9.11},{"d":"12.01.2015","v":750,"f":9.0,"lo":8.94,"hi":9.06},{"d":"12.01.2015","v":800,"f":8.98,"lo":8.92,"hi":9.04},{"d":"12.01.2015","v":850,"f":8.98,"lo":8.92,"hi":9.04},{"d":"12.01.2015","v":900,"f":8.97,"lo":8.91,"hi":9.03},{"d":"12.01.2015","v":950,"f":9.0,"lo":8.94,"hi":9.06},{"d":"12.01.2015","v":1007,"f":9.03,"lo":8.97,"hi":9.09},
{"d":"06.01.2015","v":-1040,"f":5.02,"lo":4.99,"hi":5.05},{"d":"06.01.2015","v":-1000,"f":5.03,"lo":5.0,"hi":5.06},{"d":"06.01.2015","v":-950,"f":5.02,"lo":4.99,"hi":5.05},{"d":"06.01.2015","v":-900,"f":5.0,"lo":4.97,"hi":5.03},{"d":"06.01.2015","v":-850,"f":5.02,"lo":4.99,"hi":5.05},{"d":"06.01.2015","v":-800,"f":5.0,"lo":4.97,"hi":5.03},{"d":"06.01.2015","v":-750,"f":4.98,"lo":4.95,"hi":5.01},{"d":"06.01.2015","v":-700,"f":5.0,"lo":4.97,"hi":5.03},{"d":"06.01.2015","v":-650,"f":5.02,"lo":4.99,"hi":5.05},{"d":"06.01.2015","v":-600,"f":5.01,"lo":4.98,"hi":5.04},{"d":"06.01.2015","v":-550,"f":5.02,"lo":4.99,"hi":5.05},{"d":"06.01.2015","v":-500,"f":5.02,"lo":4.99,"hi":5.05},{"d":"06.01.2015","v":-450,"f":5.02,"lo":4.99,"hi":5.05},{"d":"06.01.2015","v":-400,"f":5.03,"lo":5.0,"hi":5.06},{"d":"06.01.2015","v":-350,"f":5.06,"lo":5.02,"hi":5.1},{"d":"06.01.2015","v":-300,"f":5.15,"lo":5.08,"hi":5.22},{"d":"06.01.2015","v":-284,"f":5.21,"lo":5.12,"hi":5.3},{"d":"06.01.2015","v":-260,"f":5.4,"lo":5.28,"hi":5.53},{"d":"06.01.2015","v":-235,"f":5.63,"lo":5.5,"hi":5.8},{"d":"06.01.2015","v":-200,"f":5.88,"lo":5.73,"hi":6.08},{"d":"06.01.2015","v":-163,"f":6.04,"lo":5.89,"hi":6.24},{"d":"06.01.2015","v":-139,"f":6.08,"lo":5.93,"hi":6.28},{"d":"06.01.2015","v":-110,"f":6.06,"lo":5.91,"hi":6.26},{"d":"06.01.2015","v":-91,"f":6.04,"lo":5.9,"hi":6.22},{"d":"06.01.2015","v":-60,"f":6.02,"lo":5.9,"hi":6.18},{"d":"06.01.2015","v":-43,"f":6.0,"lo":5.9,"hi":6.15},{"d":"06.01.2015","v":-20,"f":5.92,"lo":5.82,"hi":6.06},{"d":"06.01.2015","v":5,"f":5.88,"lo":5.78,"hi":6.03},{"d":"06.01.2015","v":25,"f":6.0,"lo":5.85,"hi":6.25},{"d":"06.01.2015","v":42,"f":6.25,"lo":6.05,"hi":6.6},{"d":"06.01.2015","v":60,"f":6.5,"lo":6.25,"hi":6.95},{"d":"06.01.2015","v":80,"f":6.72,"lo":6.4,"hi":7.3},{"d":"06.01.2015","v":102,"f":6.92,"lo":6.55,"hi":7.65},{"d":"06.01.2015","v":125,"f":6.85,"lo":6.52,"hi":7.58},{"d":"06.01.2015","v":150,"f":6.77,"lo":6.47,"hi":7.4},{"d":"06.01.2015","v":185,"f":6.55,"lo":6.28,"hi":7.1},{"d":"06.01.2015","v":222,"f":6.25,"lo":6.02,"hi":6.72},{"d":"06.01.2015","v":260,"f":5.95,"lo":5.77,"hi":6.3},{"d":"06.01.2015","v":306,"f":5.63,"lo":5.52,"hi":5.85},{"d":"06.01.2015","v":340,"f":5.4,"lo":5.33,"hi":5.52},{"d":"06.01.2015","v":379,"f":5.21,"lo":5.16,"hi":5.28},{"d":"06.01.2015","v":420,"f":5.1,"lo":5.06,"hi":5.14},{"d":"06.01.2015","v":463,"f":5.03,"lo":5.0,"hi":5.06},{"d":"06.01.2015","v":520,"f":5.0,"lo":4.97,"hi":5.03},{"d":"06.01.2015","v":583,"f":4.99,"lo":4.96,"hi":5.02},{"d":"06.01.2015","v":650,"f":5.0,"lo":4.97,"hi":5.03},{"d":"06.01.2015","v":700,"f":5.0,"lo":4.97,"hi":5.03},{"d":"06.01.2015","v":750,"f":4.98,"lo":4.95,"hi":5.01},{"d":"06.01.2015","v":800,"f":5.0,"lo":4.97,"hi":5.03},{"d":"06.01.2015","v":850,"f":4.98,"lo":4.95,"hi":5.01},{"d":"06.01.2015","v":900,"f":4.99,"lo":4.96,"hi":5.02},{"d":"06.01.2015","v":950,"f":5.0,"lo":4.97,"hi":5.03},{"d":"06.01.2015","v":1007,"f":5.0,"lo":4.97,"hi":5.03},
{"d":"10.09.2014","v":-1040,"f":1.0,"lo":0.97,"hi":1.03},{"d":"10.09.2014","v":-1000,"f":1.01,"lo":0.98,"hi":1.04},{"d":"10.09.2014","v":-950,"f":0.98,"lo":0.95,"hi":1.01},{"d":"10.09.2014","v":-900,"f":1.0,"lo":0.97,"hi":1.03},{"d":"10.09.2014","v":-850,"f":0.99,"lo":0.96,"hi":1.02},{"d":"10.09.2014","v":-800,"f":0.96,"lo":0.93,"hi":0.99},{"d":"10.09.2014","v":-750,"f":0.99,"lo":0.96,"hi":1.02},{"d":"10.09.2014","v":-700,"f":0.98,"lo":0.95,"hi":1.01},{"d":"10.09.2014","v":-650,"f":0.99,"lo":0.96,"hi":1.02},{"d":"10.09.2014","v":-600,"f":1.0,"lo":0.97,"hi":1.03},{"d":"10.09.2014","v":-550,"f":1.01,"lo":0.98,"hi":1.04},{"d":"10.09.2014","v":-500,"f":1.0,"lo":0.97,"hi":1.03},{"d":"10.09.2014","v":-450,"f":1.0,"lo":0.97,"hi":1.03},{"d":"10.09.2014","v":-400,"f":1.03,"lo":1.0,"hi":1.06},{"d":"10.09.2014","v":-350,"f":1.08,"lo":1.04,"hi":1.12},{"d":"10.09.2014","v":-300,"f":1.18,"lo":1.12,"hi":1.24},{"d":"10.09.2014","v":-284,"f":1.31,"lo":1.24,"hi":1.38},{"d":"10.09.2014","v":-260,"f":1.55,"lo":1.45,"hi":1.63},{"d":"10.09.2014","v":-235,"f":1.83,"lo":1.7,"hi":1.92},{"d":"10.09.2014","v":-205,"f":2.15,"lo":1.98,"hi":2.25},{"d":"10.09.2014","v":-175,"f":2.35,"lo":2.17,"hi":2.43},{"d":"10.09.2014","v":-139,"f":2.42,"lo":2.24,"hi":2.5},{"d":"10.09.2014","v":-110,"f":2.35,"lo":2.2,"hi":2.43},{"d":"10.09.2014","v":-79,"f":2.25,"lo":2.12,"hi":2.33},{"d":"10.09.2014","v":-43,"f":2.2,"lo":2.08,"hi":2.28},{"d":"10.09.2014","v":-19,"f":2.25,"lo":2.13,"hi":2.33},{"d":"10.09.2014","v":0,"f":2.45,"lo":2.3,"hi":2.54},{"d":"10.09.2014","v":20,"f":2.75,"lo":2.55,"hi":2.85},{"d":"10.09.2014","v":40,"f":3.0,"lo":2.76,"hi":3.1},{"d":"10.09.2014","v":60,"f":3.1,"lo":2.84,"hi":3.21},{"d":"10.09.2014","v":85,"f":3.2,"lo":2.9,"hi":3.31},{"d":"10.09.2014","v":114,"f":3.29,"lo":2.95,"hi":3.38},{"d":"10.09.2014","v":150,"f":3.15,"lo":2.85,"hi":3.25},{"d":"10.09.2014","v":186,"f":2.98,"lo":2.68,"hi":3.07},{"d":"10.09.2014","v":222,"f":2.6,"lo":2.32,"hi":2.68},{"d":"10.09.2014","v":258,"f":2.15,"lo":1.9,"hi":2.22},{"d":"10.09.2014","v":290,"f":1.8,"lo":1.6,"hi":1.86},{"d":"10.09.2014","v":331,"f":1.52,"lo":1.38,"hi":1.57},{"d":"10.09.2014","v":365,"f":1.32,"lo":1.24,"hi":1.36},{"d":"10.09.2014","v":403,"f":1.21,"lo":1.16,"hi":1.25},{"d":"10.09.2014","v":463,"f":1.08,"lo":1.05,"hi":1.11},{"d":"10.09.2014","v":520,"f":1.03,"lo":1.0,"hi":1.06},{"d":"10.09.2014","v":583,"f":1.0,"lo":0.97,"hi":1.03},{"d":"10.09.2014","v":650,"f":1.01,"lo":0.98,"hi":1.04},{"d":"10.09.2014","v":700,"f":1.0,"lo":0.97,"hi":1.03},{"d":"10.09.2014","v":750,"f":0.99,"lo":0.96,"hi":1.02},{"d":"10.09.2014","v":800,"f":0.98,"lo":0.95,"hi":1.01},{"d":"10.09.2014","v":850,"f":0.99,"lo":0.96,"hi":1.02},{"d":"10.09.2014","v":900,"f":0.98,"lo":0.95,"hi":1.01},{"d":"10.09.2014","v":950,"f":1.0,"lo":0.97,"hi":1.03},{"d":"10.09.2014","v":1007,"f":1.0,"lo":0.97,"hi":1.03}
]
},
"vconcat": [
{
  "title": {"text": "Halpha 6562.81 Å"},
  "width": 567, "height": 700,
  "resolve": {"axis": {"x": "independent", "y": "independent"}},
  "layer": [
    {"data": {"name": "top"},
     "mark": {"type": "line", "color": "#ff0000", "strokeWidth": 1.8},
     "encoding": {
       "x": {"field": "v", "type": "quantitative", "scale": {"domain": [-1041, 1007], "nice": false, "zero": false}, "axis": {"orient": "bottom", "values": [-1000, -500, 0, 500, 1000], "format": "d", "title": "Velocity [km/s]"}},
       "y": {"field": "f", "type": "quantitative", "scale": {"domain": [0, 60], "nice": false, "zero": false}, "axis": {"orient": "left", "values": [0, 10, 20, 30, 40, 50, 60], "title": "Normalised Flux + Offset"}},
       "detail": {"field": "d"}
     }},
    {"data": {"name": "lt"},
     "mark": {"type": "text", "align": "left", "baseline": "alphabetic", "dy": -7, "fontSize": 13, "font": "DejaVu Sans", "color": "#111"},
     "encoding": {
       "x": {"datum": -916, "type": "quantitative", "axis": {"orient": "top", "values": [-1000, -500, 0, 500, 1000], "labels": false, "title": null}},
       "y": {"field": "o", "type": "quantitative", "axis": {"orient": "right", "values": [0, 10, 20, 30, 40, 50, 60], "labels": false, "title": null}},
       "text": {"field": "d"}
     }}
  ]
},
{
  "title": {"text": "Halpha 6562.81 Å"},
  "width": 567, "height": 400,
  "resolve": {"axis": {"x": "independent", "y": "independent"}},
  "layer": [
    {"data": {"name": "bot"},
     "mark": {"type": "area", "color": "#ff0000", "fillOpacity": 0.2, "stroke": "#999999", "strokeOpacity": 0.6, "strokeWidth": 0.8},
     "encoding": {
       "x": {"field": "v", "type": "quantitative", "scale": {"domain": [-1041, 1007], "nice": false, "zero": false}, "axis": null},
       "y": {"field": "lo", "type": "quantitative", "scale": {"domain": [0, 25], "nice": false, "zero": false}, "axis": null},
       "y2": {"field": "hi"},
       "detail": {"field": "d"}
     }},
    {"data": {"name": "bot"},
     "mark": {"type": "line", "color": "#ff0000", "strokeWidth": 1.8},
     "encoding": {
       "x": {"field": "v", "type": "quantitative", "axis": {"orient": "bottom", "values": [-1000, -500, 0, 500, 1000], "format": "d", "title": "Velocity [km/s]"}},
       "y": {"field": "f", "type": "quantitative", "axis": {"orient": "left", "values": [0, 5, 10, 15, 20, 25], "title": "Normalised Flux + Offset"}},
       "detail": {"field": "d"}
     }},
    {"data": {"name": "lb"},
     "mark": {"type": "text", "align": "left", "baseline": "alphabetic", "dy": -7, "fontSize": 13, "font": "DejaVu Sans", "color": "#111"},
     "encoding": {
       "x": {"datum": -916, "type": "quantitative", "axis": {"orient": "top", "values": [-1000, -500, 0, 500, 1000], "labels": false, "title": null}},
       "y": {"field": "o", "type": "quantitative", "axis": {"orient": "right", "values": [0, 5, 10, 15, 20, 25], "labels": false, "title": null}},
       "text": {"field": "d"}
     }}
  ]
}
]
}
